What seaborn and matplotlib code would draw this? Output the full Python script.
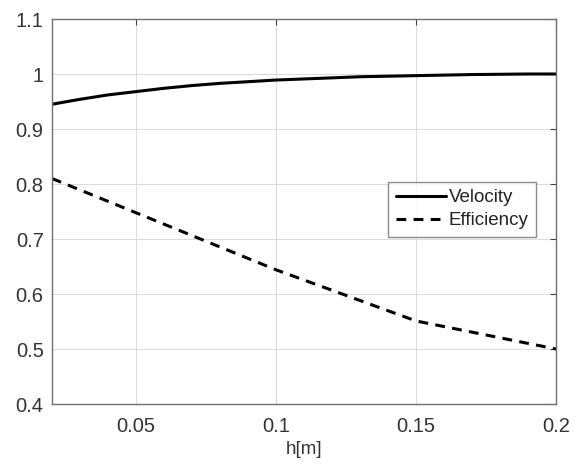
import matplotlib
matplotlib.use("Agg")
import matplotlib.pyplot as plt
import seaborn as sns
import pandas as pd

# Data
h_vel = [0.02, 0.03, 0.04, 0.05, 0.06, 0.07, 0.08, 0.09, 0.10, 0.11,
         0.12, 0.13, 0.14, 0.15, 0.16, 0.17, 0.18, 0.19, 0.20]
velocity = [0.945, 0.954, 0.962, 0.968, 0.974, 0.979, 0.983, 0.986, 0.989, 0.991,
            0.993, 0.995, 0.996, 0.997, 0.998, 0.999, 0.9995, 1.0, 1.0]
h_eff = [0.02, 0.10, 0.15, 0.20]
efficiency = [0.81, 0.644, 0.551, 0.50]

xticks = [0.05, 0.1, 0.15, 0.2]
xticklabels = ["0.05", "0.1", "0.15", "0.2"]
yticks = [0.4, 0.5, 0.6, 0.7, 0.8, 0.9, 1.0, 1.1]
yticklabels = ["0.4", "0.5", "0.6", "0.7", "0.8", "0.9", "1", "1.1"]

sns.set_style("white")
plt.rcParams['font.family'] = ['Liberation Sans', 'DejaVu Sans']

df_v = pd.DataFrame({"h": h_vel, "v": velocity})
df_e = pd.DataFrame({"h": h_eff, "v": efficiency})

fig = plt.figure(figsize=(5.81, 4.70), dpi=100)
ax = fig.add_axes([52/581, 1 - 404/470, (556-52)/581, (404-19)/470])

sns.lineplot(data=df_v, x="h", y="v", ax=ax, color="black", linewidth=2.2,
             label="Velocity")
sns.lineplot(data=df_e, x="h", y="v", ax=ax, color="black", linewidth=2.2,
             linestyle=(0, (3.2, 2.4)), label="Efficiency")

ax.set_xlim(0.02, 0.2)
ax.set_ylim(0.4, 1.1)
ax.set_xticks(xticks)
ax.set_xticklabels(xticklabels)
ax.set_yticks(yticks)
ax.set_yticklabels(yticklabels)
ax.grid(True, color="#dcdcdc", linewidth=0.8)
ax.set_axisbelow(True)
for s in ax.spines.values():
    s.set_visible(True)
    s.set_color("#707070")
    s.set_linewidth(1.0)
ax.tick_params(direction="in", length=4, color="#404040", labelsize=14.5,
               labelcolor="#333333", top=True, right=True)
ax.tick_params(axis="x", pad=9)
ax.tick_params(axis="y", pad=6)
ax.set_xlabel("h[m]", fontsize=13.5, color="#333333", labelpad=4)
ax.set_ylabel("")

leg = ax.legend(loc="upper left", bbox_to_anchor=((388-52)/504, (404-181.7)/385),
                fontsize=13.5, frameon=True, fancybox=False, handlelength=2.7,
                handletextpad=0.15, borderpad=0.4, labelspacing=0.3,
                borderaxespad=0)
leg.get_frame().set_edgecolor("#707070")
leg.get_frame().set_linewidth(1.0)
for t in leg.get_texts():
    t.set_color("#222222")

fig.savefig("out.png", dpi=100, facecolor="white")
